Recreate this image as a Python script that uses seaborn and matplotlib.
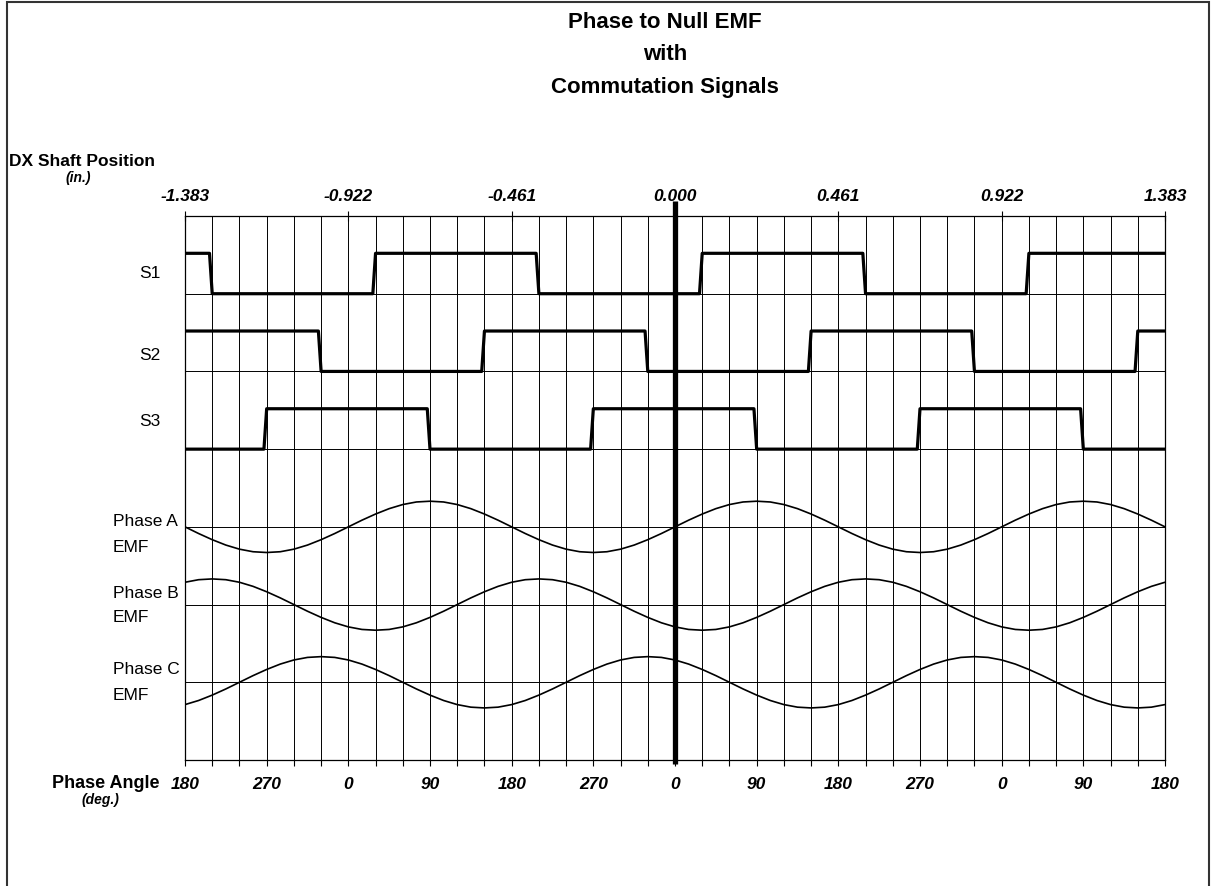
import numpy as np
import pandas as pd
import matplotlib
matplotlib.use('Agg')
import matplotlib.pyplot as plt
import seaborn as sns
from matplotlib.patches import Rectangle

# x axis = electrical angle (deg), 0 = centre of shaft travel
phase_ticks = list(range(-540, 541, 90))
phase_labels = ['180', '270', '0', '90', '180', '270', '0', '90', '180', '270', '0', '90', '180']
shaft_ticks = [-540, -360, -180, 0, 180, 360, 540]
shaft_labels = ['-1.383', '-0.922', '-0.461', '0.000', '0.461', '0.922', '1.383']

# commutation signals: level at left edge + angles where they switch
s1_start = 1
s1_edges = [-510, -330, -150, 30, 210, 390]
s2_start = 1
s2_edges = [-390, -210, -30, 150, 330, 510]
s3_start = 0
s3_edges = [-450, -270, -90, 90, 270, 450]

# EMF over one electrical cycle, read every 15 deg starting at 0 deg (normalised)
emf_a_cycle = [0.0, 0.26, 0.5, 0.71, 0.87, 0.97, 1.0, 0.97, 0.87, 0.71, 0.5, 0.26,
               0.0, -0.26, -0.5, -0.71, -0.87, -0.97, -1.0, -0.97, -0.87, -0.71, -0.5, -0.26]
emf_b_cycle = [-0.87, -0.97, -1.0, -0.97, -0.87, -0.71, -0.5, -0.26, 0.0, 0.26, 0.5, 0.71,
               0.87, 0.97, 1.0, 0.97, 0.87, 0.71, 0.5, 0.26, 0.0, -0.26, -0.5, -0.71]
emf_c_cycle = [0.87, 0.71, 0.5, 0.26, 0.0, -0.26, -0.5, -0.71, -0.87, -0.97, -1.0, -0.97,
               -0.87, -0.71, -0.5, -0.26, 0.0, 0.26, 0.5, 0.71, 0.87, 0.97, 1.0, 0.97]

W, H = 1211, 886
X0, X1 = -540, 540


def step_trace(start, edges, ramp=3):
    xs, ys = [X0], [start]
    level = start
    for e in edges:
        xs += [e - ramp, e]
        ys += [level, 1 - level]
        level = 1 - level
    xs.append(X1)
    ys.append(level)
    return np.array(xs, float), np.array(ys, float)


def px(x, y):
    return x / W, 1 - y / H


sns.set_style('white')
plt.rcParams['font.family'] = ['Liberation Sans', 'DejaVu Sans']
plt.rcParams['text.color'] = 'black'
plt.rcParams['xtick.color'] = 'black'
plt.rcParams['ytick.color'] = 'black'

fig = plt.figure(figsize=(W / 100, H / 100), dpi=100)
ax = fig.add_axes([185 / W, 1 - 760 / H, 980 / W, 544 / H])

# square-wave rows (baseline, high = baseline + 0.52)
for row, (start, edges) in zip([5, 4, 3], [(s1_start, s1_edges), (s2_start, s2_edges), (s3_start, s3_edges)]):
    xs, ys = step_trace(start, edges)
    sns.lineplot(x=xs, y=row + 0.52 * ys, ax=ax, color='black', lw=2.3,
                 estimator=None, sort=False)

# EMF rows
ang = np.arange(X0, X1 + 1, 15)
idx = (ang % 360) // 15
for row, cyc in zip([2, 1, 0], [emf_a_cycle, emf_b_cycle, emf_c_cycle]):
    vals = np.array(cyc)[idx]
    sns.lineplot(x=ang, y=row + 0.33 * vals, ax=ax, color='black', lw=1.2,
                 estimator=None, sort=False)

ax.set_xlim(X0, X1)
ax.set_ylim(-1, 6)
minor = list(range(X0, X1 + 1, 30))
ax.set_xticks(minor)
lab = dict(zip(phase_ticks, phase_labels))
ax.set_xticklabels([lab.get(t, '') for t in minor], fontsize=12.5,
                   fontweight='bold', style='italic')
ax.tick_params(axis='x', direction='out', length=4, width=0.8, color='black', pad=8)
ax.set_yticks(range(0, 6))
ax.set_yticklabels([])
ax.tick_params(axis='y', length=0)
ax.grid(True, color='black', lw=0.7)
ax.set_axisbelow(True)
ax.set_xlabel('')
ax.set_ylabel('')
for s in ax.spines.values():
    s.set_color('black')
    s.set_linewidth(0.9)

# thick centre line
ax.axvline(0, ymin=-0.008, ymax=1.027, clip_on=False, color='black', lw=3.8,
           solid_capstyle='butt', zorder=5)

# top axis: shaft position
ax2 = ax.twiny()
ax2.set_xlim(X0, X1)
ax2.set_xticks(shaft_ticks)
ax2.set_xticklabels(shaft_labels, fontsize=12.5, fontweight='bold', style='italic')
ax2.tick_params(axis='x', direction='inout', length=7, width=0.8, color='black', pad=5)
ax2.grid(False)
for s in ax2.spines.values():
    s.set_visible(False)

# row labels
for name, y in [('S1', 274), ('S2', 356), ('S3', 422)]:
    fig.text(*px(150, y), name, ha='center', va='center', fontsize=12.5)
for name, y in [('Phase A', 522), ('Phase B', 593), ('Phase C', 670)]:
    fig.text(*px(113, y), name, ha='left', va='center', fontsize=12.5)
    fig.text(*px(113, y + 25), 'EMF', ha='left', va='center', fontsize=12.5)

# axis captions
fig.text(*px(9, 161), 'DX Shaft Position', ha='left', va='center', fontsize=12.5, fontweight='bold')
fig.text(*px(78, 178), '(in.)', ha='center', va='center', fontsize=10,
         fontweight='bold', style='italic')
fig.text(*px(159, 784), 'Phase Angle', ha='right', va='center', fontsize=13, fontweight='bold')
fig.text(*px(100, 800), '(deg.)', ha='center', va='center', fontsize=10,
         fontweight='bold', style='italic')

# title
for line, y in [('Phase to Null EMF', 22), ('with', 54), ('Commutation Signals', 87)]:
    fig.text(*px(665, y), line, ha='center', va='center', fontsize=16, fontweight='bold')

# chart border
fig.patches.append(Rectangle((7 / W, -0.02), 1202 / W, 1.02 - 2 / H, transform=fig.transFigure,
                             fill=False, edgecolor='#333333', lw=1.5))

fig.savefig('out.png', dpi=100)
